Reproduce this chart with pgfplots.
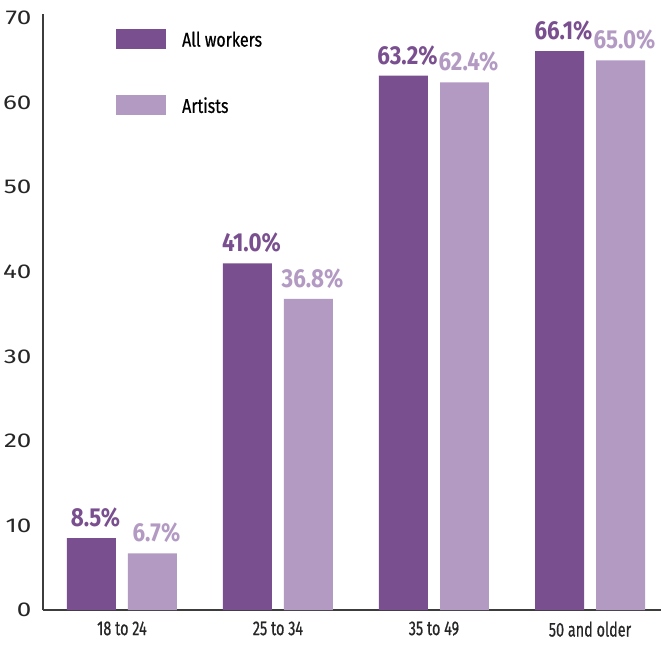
\documentclass[border=0pt]{standalone}
\usepackage{pgfplots}
\usepackage{pgfplotstable}
\pgfplotsset{compat=1.18}
\usepackage{fontspec}
\setmainfont{Fira Sans}
\newfontfamily\condfont{Fira Sans}[FakeStretch=0.8, FakeBold=0.6]
\newfontfamily\xfont{Fira Sans}[FakeStretch=0.72, FakeBold=0.6]
\newfontfamily\valfont{Fira Sans}[FakeStretch=0.86]
\newfontfamily\tickfont{Fira Sans}[FakeStretch=1.3]

\definecolor{allw}{HTML}{7A4F8F}
\definecolor{arts}{HTML}{B39AC3}
\definecolor{axisgray}{HTML}{3C3C3C}

% share of workers by age group (%)
\pgfplotstableread{
x all art
0 8.5 6.7
1 41.0 36.8
2 63.2 62.4
3 66.1 65.0
}\agedata

\begin{document}
\begin{tikzpicture}
\begin{axis}[
  width=618pt, height=596pt, scale only axis,
  xmin=-0.506, xmax=3.455, ymin=0, ymax=70.5,
  axis x line*=bottom, axis y line*=left,
  axis line style={axisgray, line width=1.2pt, -},
  xtick={0,1,2,3},
  xticklabels={18 to 24, 25 to 34, 35 to 49, 50 and older},
  ytick={0,10,...,70},
  major tick length=0pt,
  /pgf/number format/assume math mode=true,
  x tick label style={font=\xfont\fontsize{20}{22}\selectfont, text=black!85, yshift=-8pt},
  y tick label style={font=\tickfont\fontsize{20}{24}\selectfont, text=black!85, xshift=-8pt},
  ybar, bar width=0.314,
  nodes near coords={\pgfmathprintnumber[fixed,fixed zerofill,precision=1]{\pgfplotspointmeta}\%},
  every node near coord/.append style={font=\valfont\bfseries\fontsize{26}{30}\selectfont, yshift=7pt, xshift=4pt},
  legend style={draw=none, fill=none, at={(rel axis cs:0.118,0.975)}, anchor=north west,
    font=\condfont\fontsize{20}{22}\selectfont, row sep=46pt, inner sep=0pt,
    nodes={inner sep=0pt, text depth=0pt}},
  legend cell align=left,
  legend image code/.code={\fill[#1] (0pt,-10pt) rectangle (50pt,10pt); \path (66pt,0pt);},
]
\addplot[fill=allw, draw=none, bar shift=-0.1955,
  every node near coord/.append style={text=allw}] table[x=x, y=all] {\agedata};
\addlegendentry{All workers}
\addplot[fill=arts, draw=none, bar shift=0.1955,
  every node near coord/.append style={text=arts}] table[x=x, y=art] {\agedata};
\addlegendentry{Artists}
\end{axis}
\pgfresetboundingbox
\useasboundingbox ([xshift=-43pt, yshift=-35pt]current axis.south west)
  rectangle ([yshift=14pt]current axis.north east);
\end{tikzpicture}
\end{document}
